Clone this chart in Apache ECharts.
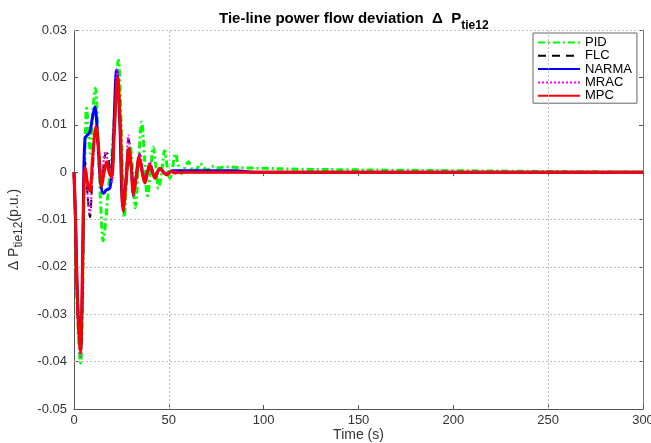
<!DOCTYPE html>
<html><head><meta charset="utf-8">
<script src="https://cdn.jsdelivr.net/npm/echarts@6/dist/echarts.min.js"></script>
<style>html,body{margin:0;padding:0;background:#fff}#c{width:651px;height:443px}</style>
</head><body><div id="c"></div>
<script>
// ---- data ----
const xTicks = [0, 50, 100, 150, 200, 250, 300];
const yTicks = [-0.05, -0.04, -0.03, -0.02, -0.01, 0, 0.01, 0.02, 0.03];
const gridXs = [50, 250];                       // visible vertical grid lines
const gridYs = [-0.04, -0.03, -0.02, -0.01, 0.03]; // visible horizontal grid lines
const seriesNames = ['PID', 'FLC', 'NARMA', 'MRAC', 'MPC'];

const pidT = [0,0.8,1.8,3.5,4.5,5.3,6.7,7.7,8.7,9.8,11.3,12.6,14,15.4,16.8,18.5,20,21.5,23.4,24.9,26.5,28,29.5,30.9,32.3,34,35.7,37.2,38.8,40.3,41.8,43.2,44.6,46.2,47.8,49.2,50.6,52,53.4,55,56.8,58.5,60.3,62,63.8,65.3,66.6,68.5,70.5,73,76,80,90,100,120,145,170,200,230,260,300];
const pidV = [0,-0.012,-0.03,-0.0403,-0.028,-0.005,0.0135,0.008,0.004,0.012,0.0177,0.008,-0.006,-0.0145,-0.01,-0.002,0.004,0.013,0.0236,0.01,-0.0095,0.0,0.006,0.0,-0.0075,0.002,0.0106,0.003,-0.005,0.0,0.0053,0.001,-0.0034,0.0,0.0045,0.001,-0.0013,0.001,0.0039,0.0015,-0.0003,0.001,0.0022,0.0008,0.0002,0.001,0.0018,0.0009,0.0005,0.0012,0.0009,0.0011,0.0009,0.0008,0.0006,0.0005,0.0004,0.0003,0.0002,0.0001,0];

const flcT = [0,0.8,1.8,3.4,4.4,5.2,6,7.2,8.4,9.8,11.5,13,14.5,16.3,17.5,19,20,21.3,23,24.6,26,27.5,28.8,30,31.3,32.8,34.6,36,37.4,38.7,40,41.4,42.7,45.3,48.9,52,56,300];
const flcV = [0,-0.011,-0.028,-0.038,-0.025,-0.005,0.002,-0.005,-0.0095,0.0,0.009,0.004,-0.002,0.0035,0.004,0.0,-0.002,0.008,0.0205,0.008,-0.0085,-0.001,0.007,0.002,-0.005,-0.001,0.0038,0.0005,-0.002,0.0,0.002,0.0003,-0.0007,0.0008,-0.0004,0.0002,0,0];

const narmaT = [0,0.8,1.8,3.4,4.4,5.0,5.8,7,8.4,9.5,11,12.5,14,15.5,17,19,20.5,22.5,24,25.8,27.3,28.8,30.2,31.3,32.8,34.3,35.9,37.4,38.7,40,42.7,45.3,48.9,52,56,85,95,300];
const narmaV = [0,-0.01,-0.026,-0.0376,-0.024,-0.005,0.0072,0.0078,0.0085,0.011,0.0138,0.007,-0.002,-0.0045,-0.0038,-0.0033,0.004,0.0215,0.012,-0.007,-0.002,0.004,0.001,-0.004,-0.001,0.0028,0.0003,-0.002,0.0,0.0014,-0.0011,0.0007,-0.0004,0.0003,0.0003,0.0003,0,0];

const mracT = [0,0.8,1.8,3.4,4.4,5.2,6,7.2,8.4,9.8,11.5,13,14.5,16.5,17.5,19,20,21.3,22.8,24.5,26,27.3,28.7,30,31.3,33,34.8,36.2,37.4,38.7,40,41.4,42.7,45.3,48.9,52,56,300];
const mracV = [0,-0.011,-0.029,-0.039,-0.026,-0.006,0.001,-0.005,-0.0088,0.0,0.0092,0.004,-0.002,0.0043,0.003,0.0,-0.002,0.008,0.0215,0.009,-0.0085,-0.001,0.0078,0.002,-0.0052,-0.001,0.0039,0.0008,-0.002,0.0,0.0022,0.0003,-0.0006,0.0008,-0.0004,0.0002,0,0];

const mpcT = [0,0.8,1.8,3.3,4.3,5.0,5.9,7.0,8.4,9.8,11.6,13.2,14.6,15.9,17.2,18.5,19.8,21.2,23,24.6,26,27.5,29,30.2,31.3,32.8,34.3,35.9,37.4,38.7,40,41.4,42.7,44,45.3,47,48.9,51,53,56,300];
const mpcV = [0,-0.01,-0.027,-0.038,-0.025,-0.008,0.001,-0.002,-0.004,0.003,0.0096,0.004,-0.003,0.0,0.0022,0.0,-0.001,0.008,0.0201,0.008,-0.008,-0.002,0.005,0.001,-0.0045,-0.001,0.0032,0.0,-0.0023,0.0,0.0015,0.0,-0.0013,0.0,0.0008,0.0,-0.0006,0.0002,-0.0002,0,0];

// ---- chart ----
const zip = (t, v) => t.map((x, i) => [x, v[i]]);
const FONT = "'Liberation Sans', Arial, Helvetica, sans-serif";
const chart = echarts.init(document.getElementById('c'), null, {renderer: 'canvas'});

const xStep = xTicks[1] - xTicks[0];
const yStep = Math.round((yTicks[1] - yTicks[0]) * 1000) / 1000;
const gridCol = '#bdbdbd';
const axisCol = '#555';

const styles = [
  {color: '#00ff00', width: 3, type: [7, 3, 2, 3]},
  {color: '#000000', width: 2, type: [8, 6]},
  {color: '#0000ff', width: 3, type: 'solid'},
  {color: '#ff00ff', width: 2, type: [2, 2]},
  {color: '#ff0000', width: 3, type: 'solid'}
];
const dataSets = [zip(pidT, pidV), zip(flcT, flcV), zip(narmaT, narmaV), zip(mracT, mracV), zip(mpcT, mpcV)];

const gridSeries = {
  name: 'grid', type: 'line', data: [], silent: true, z: 1,
  markLine: {
    silent: true, symbol: ['none', 'none'], label: {show: false}, animation: false,
    lineStyle: {color: gridCol, type: [2, 2], width: 1},
    emphasis: {disabled: true},
    data: gridXs.map(x => ({xAxis: x})).concat(gridYs.map(y => ({yAxis: y})))
  }
};

chart.setOption({
  animation: false,
  backgroundColor: '#fff',
  textStyle: {fontFamily: FONT},
  title: {
    text: '{a|Tie-line power flow deviation  Δ  P}{s|tie12}',
    left: 214, top: 1,
    textStyle: {
      rich: {
        a: {fontFamily: FONT, fontSize: 15, fontWeight: 'bold', color: '#000', lineHeight: 26, verticalAlign: 'middle'},
        s: {fontFamily: FONT, fontSize: 12, fontWeight: 'bold', color: '#000', lineHeight: 13, verticalAlign: 'bottom'}
      }
    }
  },
  legend: {
    data: seriesNames,
    orient: 'vertical',
    left: 533, top: 33,
    itemWidth: 42, itemHeight: 10, itemGap: 0.3,
    padding: [3, 5, 1, 4],
    borderColor: '#666', borderWidth: 1, backgroundColor: '#fff',
    itemStyle: {opacity: 0},
    textStyle: {fontFamily: FONT, fontSize: 13, color: '#000', lineHeight: 12},
    selectedMode: false
  },
  grid: {left: 74, right: 8, top: 30, bottom: 34, containLabel: false, outerBoundsMode: 'none'},
  xAxis: [{
    type: 'value', min: xTicks[0], max: xTicks[xTicks.length - 1], interval: xStep,
    name: 'Time (s)', nameLocation: 'middle', nameGap: 19, nameMoveOverlap: false,
    nameTextStyle: {fontFamily: FONT, fontSize: 14, color: '#333'},
    axisLine: {show: true, onZero: false, lineStyle: {color: axisCol, width: 1}},
    axisTick: {show: true, inside: true, length: 4, lineStyle: {color: axisCol}},
    axisLabel: {fontFamily: FONT, fontSize: 13, color: '#333', margin: 5},
    splitLine: {show: false}
  }, {
    type: 'value', position: 'top', min: xTicks[0], max: xTicks[xTicks.length - 1], interval: xStep,
    axisLine: {show: false},
    axisTick: {show: true, inside: true, length: 4, lineStyle: {color: axisCol}},
    axisLabel: {show: false}, splitLine: {show: false}
  }],
  yAxis: [{
    type: 'value', min: yTicks[0], max: yTicks[yTicks.length - 1], interval: yStep,
    name: '{a|Δ P}{s|tie12}{c|(p.u.)}', nameLocation: 'middle', nameGap: 49, nameRotate: 90, nameMoveOverlap: false,
    nameTextStyle: {
      padding: [0, 20, 0, 0],
      rich: {
        a: {fontFamily: FONT, fontSize: 14, color: '#333', lineHeight: 22, verticalAlign: 'middle'},
        s: {fontFamily: FONT, fontSize: 12, color: '#333', lineHeight: 11, verticalAlign: 'bottom'},
        c: {fontFamily: FONT, fontSize: 14, color: '#333', lineHeight: 22, verticalAlign: 'middle'}
      }
    },
    axisLine: {show: true, onZero: false, lineStyle: {color: axisCol, width: 1}},
    axisTick: {show: true, inside: true, length: 4, lineStyle: {color: axisCol}},
    axisLabel: {fontFamily: FONT, fontSize: 13, color: '#333', margin: 7,
      formatter: v => String(Number(v.toFixed(2)))},
    splitLine: {show: false}
  }, {
    type: 'value', position: 'right', min: yTicks[0], max: yTicks[yTicks.length - 1], interval: yStep,
    axisLine: {show: true, onZero: false, lineStyle: {color: '#777', width: 1}},
    axisTick: {show: true, inside: true, length: 4, lineStyle: {color: axisCol}},
    axisLabel: {show: false}, splitLine: {show: false}
  }],
  series: [gridSeries].concat(seriesNames.map((n, i) => ({
    name: n, type: 'line', xAxisIndex: 0, yAxisIndex: 0,
    data: dataSets[i], symbol: 'none', smooth: 0.35,
    lineStyle: styles[i], itemStyle: {color: styles[i].color},
    z: 2 + i
  })))
});
</script></body></html>
